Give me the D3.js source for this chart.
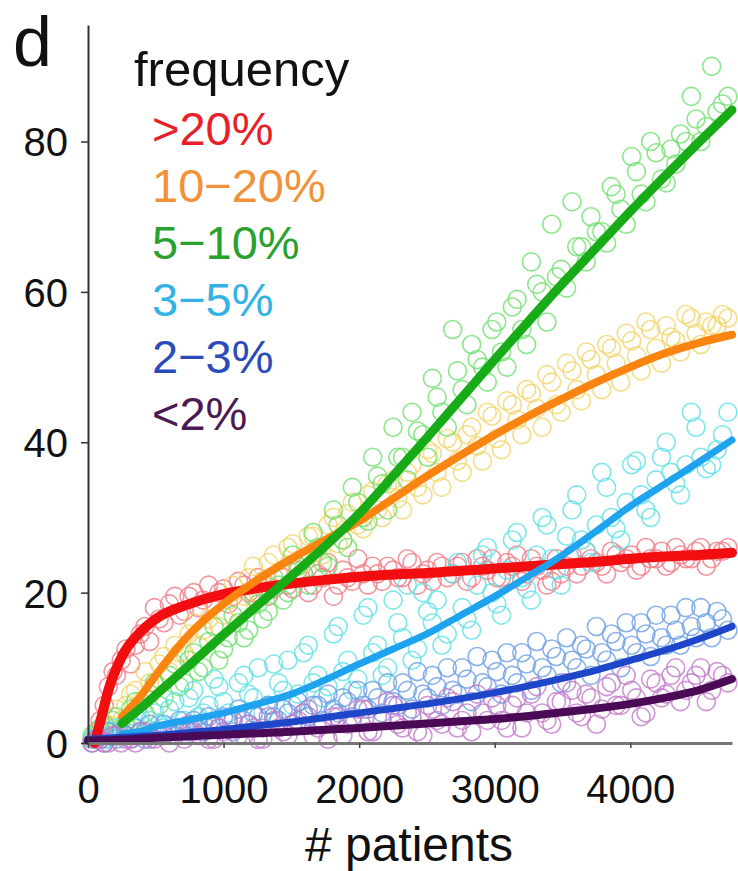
<!DOCTYPE html>
<html>
<head>
<meta charset="utf-8">
<script src="https://cdn.jsdelivr.net/npm/d3@7/dist/d3.min.js"></script>
<style>
  html, body { margin: 0; padding: 0; background: #fff; }
  svg { display: block; font-family: "Liberation Sans", Arial, sans-serif; }
</style>
</head>
<body>
<div id="chart"></div>
<script>
// Panel d: number of genes vs # patients, grouped by mutation frequency.

const legendLabels = [">20%", "10\u221220%", "5\u221210%", "3\u22125%", "2\u22123%", "<2%"];
const xTicks = [0, 1000, 2000, 3000, 4000];
const yTicks = [0, 20, 40, 60, 80];

// scatter x positions (# patients), two interleaved sample sets
const ptX = [30, 90, 150, 210, 280, 350, 420, 490, 560, 640, 710, 780, 850, 930, 1000, 1070,
  1150, 1220, 1290, 1370, 1440, 1510, 1590, 1660, 1730, 1810, 1880, 1950, 2030, 2100, 2170,
  2250, 2320, 2390, 2470, 2540, 2610, 2690, 2760, 2830, 2910, 2980, 3050, 3130, 3200, 3270,
  3350, 3420, 3490, 3570, 3640, 3710, 3790, 3860, 3930, 4010, 4080, 4150, 4230, 4300, 4370,
  4450, 4520, 4600, 4680];
const ptX2 = [60, 120, 185, 245, 315, 385, 455, 525, 600, 675, 745, 815, 890, 965, 1035, 1110,
  1185, 1255, 1330, 1405, 1475, 1550, 1625, 1695, 1770, 1845, 1915, 1990, 2065, 2135, 2210,
  2285, 2355, 2430, 2505, 2575, 2650, 2725, 2795, 2870, 2945, 3015, 3090, 3165, 3235, 3310,
  3385, 3455, 3530, 3605, 3675, 3750, 3825, 3895, 3970, 4045, 4115, 4190, 4265, 4335, 4410,
  4485, 4560, 4640, 4720];

const ptHigh = [0.5, 3, 7.5, 9, 12.5, 13, 15.5, 18, 16, 19.5, 17.5, 20, 19, 18.5, 20.5, 19.5,
  21, 20, 21.5, 20.5, 22, 20.5, 22.5, 21, 22, 19.5, 23, 21.5, 22.5, 23.5, 21.5,
  23, 22, 24, 22.5, 21.5, 23.5, 22.5, 24, 22, 23.5, 24.5, 22, 23.5, 21.5, 24.5,
  23, 21.5, 22.5, 25, 23.5, 24.5, 23.5, 25.5, 24, 25, 23.5, 24.5, 25.5, 24, 25,
  24.5, 26, 24.5, 25.5];
const ptHigh2 = [1.5, 5, 9.5, 11, 10.5, 14.5, 13.5, 16.5, 18.5, 17, 19.5, 18, 21, 20, 18.5, 21.5,
  20, 22, 19.5, 22.5, 21, 23, 20, 22.5, 24, 21, 22, 24.5, 21, 22.5, 23.5,
  22, 24.5, 21, 23, 24, 22, 23.5, 21.5, 24.5, 23, 22, 24, 25, 22.5, 23.5,
  21, 24.5, 23.5, 22.5, 25.5, 24, 22.5, 25, 24.5, 23, 26, 24.5, 23.5, 26, 24.5,
  25.5, 23.5, 25.5, 26];
const ptMid = [0.5, 1.5, 2, 4.5, 5, 7, 9.5, 8, 11.5, 13, 12, 16, 15, 18.5, 17, 21,
  19.5, 23.5, 21, 25, 22.5, 26.5, 24, 27.5, 25, 30, 27, 32, 28.5, 33.5, 30,
  35, 31, 37, 33, 38.5, 34, 40, 36, 42, 37.5, 43.5, 39, 45, 41, 46.5,
  42, 48, 44, 49.5, 45.5, 51, 47, 52.5, 48, 53.5, 49.5, 55, 50.5, 54, 52,
  56.5, 53, 55.5, 57];
const ptMid2 = [1, 2.5, 3.5, 3, 6.5, 5.5, 8, 10.5, 9.5, 12, 14.5, 13, 16.5, 15.5, 19, 18,
  22, 20, 24, 22.5, 26, 23.5, 27.5, 25.5, 29, 26.5, 30.5, 29, 33, 31, 34.5,
  32.5, 36, 34, 39, 36, 40.5, 37.5, 41, 39.5, 44, 40.5, 45.5, 43, 47, 44.5,
  49, 45, 50.5, 47, 52, 49, 53, 50.5, 54.5, 51.5, 56, 52.5, 55.5, 53.5, 57,
  54.5, 56, 55.5, 56.5];
const ptFive = [1, 2, 1.5, 3.5, 2.5, 5.5, 4, 8, 6, 10.5, 8, 12, 10, 15.5, 12.5, 17,
  14, 19.5, 16.5, 22, 19, 25, 22.5, 28, 24, 31, 27, 34, 30, 38, 34.5,
  42, 38, 44, 41, 48.5, 44, 55, 47, 53, 50, 55, 52, 58, 55, 64,
  60, 69, 63, 72, 66, 70, 68, 74, 71, 78, 73, 80, 75, 79, 81,
  86, 80, 90, 85];
const ptFive2 = [0.5, 2.5, 3, 2, 4.5, 3.5, 6.5, 5, 9, 7.5, 11, 9.5, 13.5, 11, 14, 16,
  15, 18.5, 17.5, 21, 20, 23.5, 21, 26, 23.5, 29, 26, 32, 29.5, 35.5, 31,
  38, 35, 41.5, 38, 46, 42, 49.5, 45, 51, 48, 56, 50, 59, 53, 61,
  56, 62, 60.5, 66, 64, 68, 66.5, 73, 69, 76, 72, 78.5, 74.5, 77, 80,
  83, 82, 84, 86];
const ptThree = [0.5, 1, 0.5, 2, 1, 3.5, 1.5, 4, 2, 5.5, 3, 7, 4, 8.5, 5.5, 3,
  9, 6, 4, 10.5, 7, 5, 12, 8, 6, 14.5, 9.5, 7, 17, 12, 9,
  19, 14, 11, 20, 16, 13, 22.5, 18, 15, 25, 20, 17, 27, 22, 19,
  30, 24.5, 21, 31, 27, 24, 36, 30, 27, 37, 33, 30, 38, 36, 33,
  44, 38, 37, 41];
const ptThree2 = [1, 0.5, 1.5, 1, 2.5, 1.5, 3, 2.5, 4.5, 2, 6, 3.5, 5, 7.5, 4, 8,
  6.5, 10, 5, 8, 11, 6.5, 13, 9, 7.5, 15.5, 11, 8.5, 18, 13, 10,
  16, 21, 12.5, 17.5, 19, 14.5, 24, 16.5, 21, 26, 18.5, 23, 28, 20.5, 25,
  29, 23, 27.5, 33, 25.5, 29, 34, 28.5, 32, 37.5, 31, 35, 40, 34.5, 37,
  42, 36.5, 39, 44];
const ptTwo = [0, 0.5, 1.5, 0.5, 1, 2, 0.5, 1.5, 2.5, 1, 2, 3, 1.5, 2.5, 3.5, 1.5,
  3, 4, 2, 3.5, 4.5, 2.5, 4, 5, 3, 4.5, 6, 3.5, 5, 7, 4,
  5.5, 8, 4.5, 6.5, 9, 5, 7, 10, 5.5, 8, 11, 6.5, 9, 12, 7,
  10, 12.5, 8, 11, 13, 9, 12, 14.5, 10, 13, 16, 11.5, 14, 17, 13,
  15.5, 18, 14, 16.5];
const ptTwo2 = [0.5, 0, 1, 1.5, 0.5, 1.5, 2.5, 1, 1.5, 3, 1.5, 2.5, 3.5, 2, 3, 4.5,
  2.5, 3.5, 5, 3, 4, 5.5, 3.5, 5, 6.5, 4, 5.5, 7, 4.5, 6, 8,
  5, 7, 9.5, 6, 7.5, 10, 6.5, 8.5, 11.5, 7.5, 9.5, 12, 8, 10.5, 13.5,
  9, 11.5, 14, 10, 12.5, 15.5, 11, 13.5, 16, 12, 14.5, 17, 13, 15, 18,
  14, 16, 17.5, 15];
const ptLow = [0, 0.5, 0, 1, 0.5, 0, 1.5, 0.5, 1, 2, 0.5, 1.5, 2.5, 0.5, 1.5, 3,
  1, 2, 0.5, 3, 1.5, 2.5, 4, 1, 2.5, 3.5, 1, 3, 4.5, 1.5, 3,
  5, 2, 3.5, 1, 4.5, 2.5, 5.5, 3, 1.5, 4, 6, 3, 5, 2, 6.5,
  4, 2.5, 5.5, 7, 3.5, 6, 4.5, 8, 5, 7, 3.5, 8.5, 6, 9, 5.5,
  8, 10, 7, 9];
const ptLow2 = [0.5, 0, 1, 0, 0.5, 1.5, 0.5, 1, 0, 1.5, 2.5, 1, 0.5, 2, 3, 1,
  2.5, 0.5, 3.5, 2, 1, 3, 4.5, 2, 0.5, 3.5, 2.5, 4.5, 1.5, 3.5, 5.5,
  2.5, 4, 1.5, 5, 3, 6, 2, 4, 6.5, 3, 5, 2, 6, 4, 7.5,
  3, 5.5, 8, 4, 6.5, 2.5, 7.5, 5, 9, 6, 4, 8, 6.5, 10, 7,
  9, 5.5, 9.5, 8];

// fitted curves, sampled along # patients
const fitX = [0, 50, 100, 150, 250, 400, 500, 750, 1000, 1250, 1500, 1750, 2000, 2250, 2500,
  2750, 3000, 3250, 3500, 3750, 4000, 4250, 4500, 4750];
const fitHigh = [null, 0, 3.5, 7, 11.5, 15, 16.5, 18.5, 19.8, 20.6, 21.2, 21.7, 22.1, 22.4, 22.6,
  22.9, 23.2, 23.5, 23.8, 24.1, 24.5, 24.8, 25.0, 25.3];
const fitMid = [null, null, null, null, 3.5, 6.5, 9, 14.5, 18.5, 21.7, 24.5, 27, 29.5, 32.5, 35.5,
  38.3, 41, 43.5, 45.8, 48, 50, 51.8, 53.2, 54.3];
const fitFive = [null, null, null, null, 2.6, 4.8, 6.4, 10.4, 14.4, 18.3, 22.2, 26.2, 30.5, 35.5, 40.6,
  45.8, 51, 56.1, 61.1, 65.9, 70.7, 75.3, 79.8, 84.2];
const fitThree = [null, null, null, null, 1.2, 1.6, 2.2, 3.1, 4, 5.2, 6.5, 8.4, 10.5, 12.5, 14.5,
  17, 19.5, 22.2, 25, 28.2, 31.5, 34.4, 37.3, 40.3];
const fitTwo = [0.5, 0.55, 0.6, 0.65, 0.75, 0.9, 1, 1.4, 1.8, 2.3, 2.8, 3.4, 4, 4.6, 5.2,
  5.9, 6.7, 7.6, 8.6, 9.7, 11, 12.3, 13.8, 15.5];
const fitLow = [0.3, 0.32, 0.35, 0.38, 0.45, 0.6, 0.7, 0.9, 1.1, 1.3, 1.5, 1.75, 2, 2.3, 2.6,
  2.9, 3.2, 3.6, 4.1, 4.6, 5.2, 6, 7, 8.5];

const groups = [
  { label: legendLabels[0], pts: [ptHigh, ptHigh2], fit: fitHigh, text: "#e8202a", line: "#f20d10", dot: "#f07a86", lw: 10 },
  { label: legendLabels[1], pts: [ptMid, ptMid2], fit: fitMid, text: "#f0923a", line: "#fa8410", dot: "#f3d46a", lw: 8 },
  { label: legendLabels[2], pts: [ptFive, ptFive2], fit: fitFive, text: "#2aa02e", line: "#18ab18", dot: "#6fe06f", lw: 9 },
  { label: legendLabels[3], pts: [ptThree, ptThree2], fit: fitThree, text: "#33b2e6", line: "#1fa3ee", dot: "#5fe0e6", lw: 7 },
  { label: legendLabels[4], pts: [ptTwo, ptTwo2], fit: fitTwo, text: "#2b4bbb", line: "#1e46c8", dot: "#6d9fe4", lw: 7 },
  { label: legendLabels[5], pts: [ptLow, ptLow2], fit: fitLow, text: "#4a1a52", line: "#4a0a56", dot: "#c37acb", lw: 8 },
];

const W = 738, H = 871;
const svg = d3.select("#chart").append("svg").attr("width", W).attr("height", H);

const x = d3.scaleLinear().domain([0, 4750]).range([88, 732]);
const y = d3.scaleLinear().domain([0, 95.5]).range([743, 25]);

// scatter, back-most group first
const dotsG = svg.append("g").attr("class", "dots");
groups.forEach((g) => {
  const pts = ptX.map((v, i) => [v, g.pts[0][i]])
    .concat(ptX2.map((v, i) => [v, g.pts[1][i]]))
    .filter((d) => d[1] !== undefined && d[1] !== null);
  dotsG.append("g")
    .selectAll("circle")
    .data(pts)
    .enter().append("circle")
    .attr("cx", (d) => x(d[0]))
    .attr("cy", (d) => y(d[1]))
    .attr("r", 9)
    .attr("fill", "none")
    .attr("stroke", g.dot)
    .attr("stroke-width", 1.6)
    .attr("opacity", 0.8);
});

// fitted curves
const line = d3.line()
  .defined((d) => d[1] !== null)
  .x((d) => x(d[0]))
  .y((d) => y(d[1]))
  .curve(d3.curveMonotoneX);

const linesG = svg.append("g").attr("class", "fits");
groups.forEach((g) => {
  linesG.append("path")
    .datum(fitX.map((v, i) => [v, g.fit[i]]))
    .attr("d", line)
    .attr("fill", "none")
    .attr("stroke", g.line)
    .attr("stroke-width", g.lw)
    .attr("stroke-linecap", "round");
});

// axes
const yAxis = svg.append("g")
  .attr("transform", "translate(88,0)")
  .call(d3.axisLeft(y).tickValues(yTicks).tickSize(7).tickSizeOuter(0).tickFormat(d3.format("d")));
yAxis.select(".domain").attr("stroke", "#333").attr("stroke-width", 2);
yAxis.selectAll(".tick line").attr("stroke", "#333").attr("stroke-width", 1.5);
yAxis.selectAll(".tick text")
  .attr("x", -20).attr("dy", "0.36em")
  .attr("font-size", 40).attr("fill", "#111")
  .style("font-family", "'Liberation Sans', Arial, sans-serif");

const xAxis = svg.append("g")
  .attr("transform", "translate(0,743)")
  .call(d3.axisBottom(x).tickValues(xTicks).tickSize(5).tickSizeOuter(0).tickFormat(d3.format("d")));
xAxis.select(".domain").attr("stroke", "#777").attr("stroke-width", 3);
xAxis.selectAll(".tick line").attr("stroke", "#444").attr("stroke-width", 1.5);
xAxis.selectAll(".tick text")
  .attr("y", 60).attr("dy", 0)
  .attr("font-size", 40).attr("fill", "#111")
  .style("font-family", "'Liberation Sans', Arial, sans-serif");

svg.append("text")
  .attr("x", 409).attr("y", 861)
  .attr("text-anchor", "middle")
  .attr("font-size", 48).attr("fill", "#111")
  .text("# patients");

// panel letter
svg.append("text")
  .attr("x", 13).attr("y", 66)
  .attr("font-size", 70).attr("fill", "#111")
  .text("d");

// legend
svg.append("text")
  .attr("x", 134).attr("y", 86)
  .attr("font-size", 49).attr("fill", "#111")
  .text("frequency");

svg.append("g").selectAll("text")
  .data(groups)
  .enter().append("text")
  .attr("x", 152)
  .attr("y", (d, i) => 145 + i * 57)
  .attr("font-size", 47)
  .attr("fill", (d) => d.text)
  .text((d) => d.label);
</script>
</body>
</html>
